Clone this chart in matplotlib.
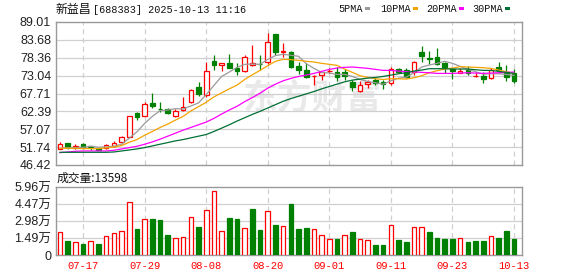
import matplotlib
matplotlib.use('Agg')
import matplotlib.pyplot as plt
from matplotlib.patches import Rectangle
import numpy as np

# ---- data ----
dates = ['07-14', '07-15', '07-16', '07-17', '07-18', '07-21', '07-22', '07-23', '07-24', '07-25',
         '07-28', '07-29', '07-30', '07-31', '08-01', '08-04', '08-05', '08-06', '08-07', '08-08',
         '08-11', '08-12', '08-13', '08-14', '08-15', '08-18', '08-19', '08-20', '08-21', '08-22',
         '08-25', '08-26', '08-27', '08-28', '08-29', '09-01', '09-02', '09-03', '09-04', '09-05',
         '09-08', '09-09', '09-10', '09-11', '09-12', '09-15', '09-16', '09-17', '09-18', '09-19',
         '09-22', '09-23', '09-24', '09-25', '09-26', '09-29', '09-30', '10-09', '10-10', '10-13']

opens = [51.26, 52.93, 51.46, 52.64, 52.05, 51.10, 51.56, 52.05, 53.40, 54.90,
         62.05, 61.07, 65.00, 63.10, 63.00, 61.10, 62.80, 65.30, 69.75, 67.20,
         77.50, 76.20, 76.90, 75.20, 74.40, 76.30, 76.50, 77.00, 85.40, 80.20,
         80.20, 75.90, 74.70, 72.90, 73.20, 74.40, 74.20, 74.20, 71.20, 68.50,
         70.40, 71.70, 71.20, 70.70, 74.90, 74.70, 74.20, 80.10, 78.20, 78.50,
         76.70, 75.10, 73.70, 74.70, 72.80, 73.00, 72.20, 75.70, 74.20, 73.70]
highs = [53.20, 53.00, 52.54, 52.93, 52.20, 51.30, 52.70, 53.70, 55.20, 61.10,
         62.25, 65.20, 67.90, 65.20, 63.50, 63.00, 66.60, 68.95, 71.10, 77.10,
         79.30, 76.90, 79.60, 76.90, 79.10, 82.30, 79.20, 85.80, 85.40, 82.85,
         80.50, 77.20, 76.90, 73.10, 74.20, 75.20, 75.70, 74.90, 71.70, 71.40,
         71.70, 72.20, 71.70, 75.70, 75.40, 75.20, 77.50, 81.90, 80.40, 81.30,
         77.20, 75.40, 75.40, 75.90, 74.20, 74.20, 75.20, 77.20, 76.20, 74.90]
lows = [51.06, 51.26, 51.06, 51.26, 51.00, 50.80, 51.26, 51.75, 53.00, 54.70,
        59.90, 60.87, 63.50, 62.25, 61.75, 60.60, 62.60, 65.00, 67.00, 66.80,
        74.70, 74.50, 75.20, 73.20, 74.00, 76.00, 74.70, 76.50, 79.20, 78.70,
        75.20, 73.50, 72.20, 70.20, 71.70, 73.70, 71.50, 71.70, 68.60, 68.30,
        69.25, 70.20, 69.05, 70.15, 73.70, 72.20, 73.20, 77.20, 76.50, 76.20,
        73.70, 72.10, 73.70, 73.20, 72.50, 70.90, 71.90, 73.70, 71.50, 70.90]
closes = [52.64, 51.65, 52.14, 51.75, 51.80, 51.00, 52.34, 53.03, 54.70, 60.90,
          60.60, 64.50, 64.00, 63.00, 62.05, 62.60, 63.60, 68.75, 67.60, 74.40,
          76.30, 76.90, 75.40, 74.50, 78.70, 76.90, 76.40, 83.05, 80.00, 80.50,
          75.50, 74.70, 72.50, 73.00, 74.20, 74.50, 72.70, 72.80, 69.70, 70.10,
          71.20, 70.70, 70.60, 74.90, 74.20, 72.70, 77.20, 79.00, 78.10, 76.50,
          75.50, 74.30, 74.40, 73.90, 72.95, 72.00, 74.70, 74.60, 72.70, 71.50]

ma5 = [51.5, 51.5, 51.6, 51.7, 52.0, 51.7, 51.8, 52.0, 52.6, 54.4,
       56.3, 58.8, 60.9, 62.6, 62.8, 63.2, 63.1, 64.0, 64.9, 67.4,
       70.1, 72.8, 74.1, 75.5, 76.4, 76.5, 76.4, 77.9, 79.0, 79.4,
       79.1, 78.8, 76.6, 75.2, 74.0, 73.8, 73.4, 73.4, 72.8, 71.9,
       71.3, 70.9, 70.5, 71.5, 72.3, 72.6, 73.9, 75.6, 76.2, 76.7,
       77.3, 76.7, 75.8, 74.9, 74.2, 73.5, 73.6, 73.6, 73.4, 73.1]
ma10 = [51.4, 51.4, 51.4, 51.3, 51.3, 51.3, 51.5, 51.8, 52.2, 53.2,
        54.0, 55.3, 56.4, 57.6, 58.6, 59.8, 60.9, 62.5, 63.8, 65.1,
        66.7, 67.9, 69.1, 70.2, 71.9, 73.3, 74.6, 76.0, 77.3, 77.9,
        77.8, 77.6, 77.3, 77.1, 76.7, 76.4, 76.1, 75.0, 74.0, 73.0,
        72.5, 72.1, 71.9, 72.1, 72.1, 72.0, 72.4, 73.0, 73.9, 74.5,
        75.0, 75.3, 75.7, 75.6, 75.5, 75.4, 75.2, 74.7, 74.2, 73.7]
ma20 = [50.1, 50.3, 50.5, 50.6, 50.6, 50.6, 50.6, 50.8, 51.2, 51.6,
        52.0, 52.6, 53.3, 54.1, 55.0, 55.9, 56.8, 57.6, 58.4, 59.2,
        60.3, 61.6, 62.8, 63.9, 65.3, 66.5, 67.8, 69.3, 70.5, 71.5,
        72.2, 72.8, 73.2, 73.7, 74.3, 74.9, 75.3, 75.5, 75.6, 75.4,
        75.2, 74.9, 74.6, 74.6, 74.4, 74.2, 74.2, 74.0, 73.9, 73.7,
        73.7, 73.7, 73.8, 73.9, 73.8, 73.7, 73.8, 73.9, 74.0, 74.1]
ma30 = [50.2, 50.2, 50.2, 50.2, 50.2, 50.2, 50.2, 50.3, 50.6, 50.9,
        51.2, 51.6, 52.1, 52.6, 53.1, 53.6, 54.0, 54.5, 55.0, 55.5,
        56.4, 57.4, 58.4, 59.5, 60.5, 61.5, 62.4, 63.4, 64.4, 65.4,
        66.2, 66.9, 67.6, 68.3, 69.1, 69.8, 70.5, 71.2, 71.7, 72.0,
        72.3, 72.5, 72.8, 73.2, 73.6, 73.9, 74.4, 74.7, 75.1, 75.1,
        75.1, 75.0, 75.0, 75.0, 74.8, 74.6, 74.6, 74.3, 74.0, 73.7]

# volume in units of 万 (10,000 shares)
volumes = [2.05, 1.20, 1.17, 0.94, 1.26, 0.94, 1.70, 1.96, 2.13, 4.68,
           2.25, 3.16, 3.19, 3.04, 1.78, 1.52, 1.61, 3.33, 2.43, 3.95,
           5.61, 2.13, 3.27, 3.19, 2.37, 4.06, 2.22, 3.89, 2.66, 2.54,
           4.50, 2.31, 2.40, 2.31, 1.75, 1.43, 1.43, 1.75, 2.05, 1.43,
           1.34, 0.91, 0.91, 2.63, 1.34, 1.17, 2.46, 2.46, 2.05, 1.52,
           1.43, 1.43, 1.49, 1.17, 1.26, 1.26, 1.67, 1.52, 2.13, 1.36]

price_ticks = [46.42, 51.74, 57.07, 62.39, 67.71, 73.04, 78.36, 83.68, 89.01]
vol_ticks = [0, 1.49, 2.98, 4.47, 5.96]
vol_tick_labels = ['0', '1.49万', '2.98万', '4.47万', '5.96万']
date_ticks = ['07-17', '07-29', '08-08', '08-20', '09-01', '09-11', '09-23', '10-13']
ma_names = ['5PMA', '10PMA', '20PMA', '30PMA']

RED = '#ff0000'
GREEN = '#008000'
MA_COLORS = ['#9a9a9a', '#f4a300', '#ff00ff', '#006f35']
GRID = '#d0d0d0'
FRAME = '#999999'

W, H = 578, 276
fig = plt.figure(figsize=(W / 100, H / 100), dpi=100)
fig.patch.set_facecolor('white')

def fx(px):
    return px / W

def fy(py):
    return 1 - py / H

ax = fig.add_axes([fx(56), fy(165), fx(522) - fx(56), fy(22) - fy(165)])
axv = fig.add_axes([fx(56), fy(255), fx(522) - fx(56), fy(187) - fy(255)])

x = np.arange(len(dates))
o = np.array(opens)
c = np.array(closes)
up = c >= o
tick_pos = [dates.index(d) for d in date_ticks]

for a in (ax, axv):
    a.set_xlim(-0.52, 60.04)
    for s in a.spines.values():
        s.set_color(FRAME)
        s.set_linewidth(1.0)
    a.tick_params(length=0)
    a.set_xticks(tick_pos)
    for t in tick_pos:
        a.axvline(t, color=GRID, lw=0.9, ls=(0, (4, 3)), zorder=0)

# watermark
ax.text(0.55, 0.47, '东方财富', transform=ax.transAxes, ha='center', va='center',
        fontsize=25, color='#e9e9e9', family='Noto Sans CJK SC', weight='bold', zorder=0)

# price panel
ax.set_ylim(price_ticks[0], price_ticks[-1])
ax.set_yticks(price_ticks)
ax.set_yticklabels([f'{v:.2f}' for v in price_ticks], family='Liberation Sans',
                   fontsize=9, color='#222222')
for v in price_ticks[1:-1]:
    ax.axhline(v, color=GRID, lw=0.9, zorder=0)
ax.set_xticklabels([])

body_w = 0.6
ax.vlines(x[up], np.array(lows)[up], np.array(highs)[up], color=RED, lw=0.9, zorder=2)
ax.vlines(x[~up], np.array(lows)[~up], np.array(highs)[~up], color=GREEN, lw=0.9, zorder=2)
body_h = np.maximum(np.abs(c - o), 0.12)
ax.bar(x[up], body_h[up], bottom=np.minimum(o, c)[up], width=body_w,
       facecolor='white', edgecolor=RED, linewidth=0.9, zorder=3)
ax.bar(x[~up], body_h[~up], bottom=np.minimum(o, c)[~up], width=body_w,
       facecolor=GREEN, edgecolor=GREEN, linewidth=0.9, zorder=3)

for series, col in zip([ma5, ma10, ma20, ma30], MA_COLORS):
    ax.plot(x, series, color=col, lw=0.9, zorder=4)

# volume panel
axv.set_ylim(0, vol_ticks[-1])
axv.set_yticks(vol_ticks)
axv.set_yticklabels(vol_tick_labels, family=['Liberation Sans', 'Noto Sans CJK SC'],
                    fontsize=9, color='#222222')
for v in vol_ticks[1:-1]:
    axv.axhline(v, color=GRID, lw=0.9, zorder=0)
vol = np.array(volumes)
prev = np.concatenate([[opens[0]], closes[:-1]])
vup = c >= prev
axv.bar(x[vup], vol[vup], width=body_w, facecolor='white', edgecolor=RED, linewidth=0.9, zorder=3)
axv.bar(x[~vup], vol[~vup], width=body_w, facecolor=GREEN, edgecolor=GREEN, linewidth=0.9, zorder=3)
axv.set_xticklabels(date_ticks, family='Liberation Mono', fontsize=7.6, color=RED)
axv.tick_params(axis='x', pad=4)

# header texts
fig.text(fx(56), fy(10), '新益昌', family='Noto Sans CJK SC', fontsize=8.6,
         va='center', ha='left', color='#111111')
fig.text(fx(93), fy(10), '[688383] 2025-10-13 11:16', family='Liberation Mono',
         fontsize=7.3, va='center', ha='left', color='#111111')

legend_x = [338, 380, 426, 472]
for name, col, lx in zip(ma_names, MA_COLORS, legend_x):
    fig.text(fx(lx), fy(9), name, family='Liberation Mono', fontsize=7.3,
             va='center', ha='left', color='#111111')
    tw = 6.2 * len(name)
    fig.add_artist(Rectangle((fx(lx + tw + 2), fy(10)), 5 / W, 3 / H,
                             transform=fig.transFigure, color=col, lw=0))

fig.text(fx(57), fy(178), '成交量:13598', family='Noto Sans CJK SC', fontsize=8.5,
         va='center', ha='left', color='#111111')

fig.savefig('out.png', dpi=100)
